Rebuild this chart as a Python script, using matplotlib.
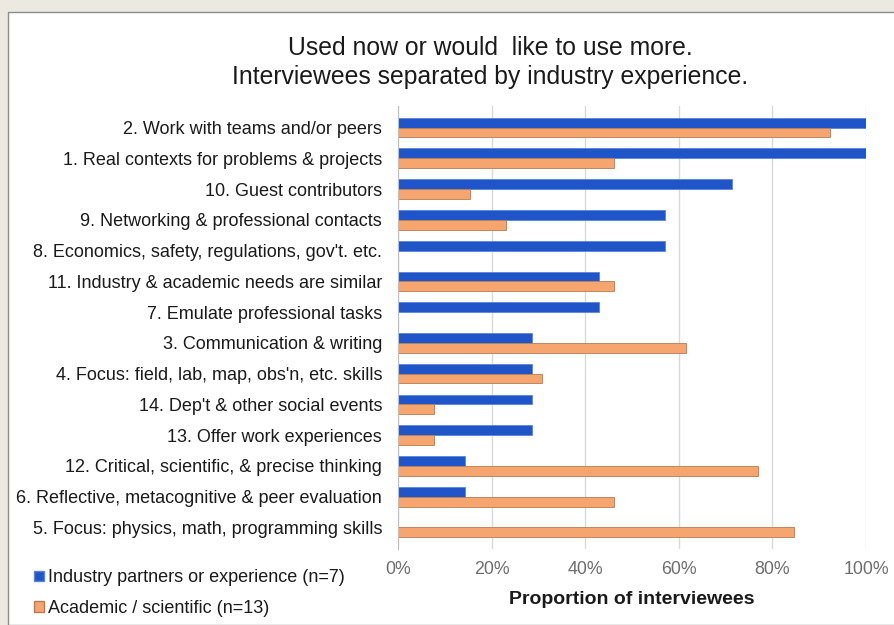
import numpy as np
import matplotlib
matplotlib.use("Agg")
import matplotlib.pyplot as plt
from matplotlib.patches import Rectangle, Patch
from matplotlib.ticker import PercentFormatter

plt.rcParams["font.family"] = ["Liberation Sans", "DejaVu Sans"]

categories = [
    "2. Work with teams and/or peers",
    "1. Real contexts for problems & projects",
    "10. Guest contributors",
    "9. Networking & professional contacts",
    "8. Economics, safety, regulations, gov't. etc.",
    "11. Industry & academic needs are similar",
    "7. Emulate professional tasks",
    "3. Communication & writing",
    "4. Focus: field, lab, map, obs'n, etc. skills",
    "14. Dep't & other social events",
    "13. Offer work experiences",
    "12. Critical, scientific, & precise thinking",
    "6. Reflective, metacognitive & peer evaluation",
    "5. Focus: physics, math, programming skills",
]

# counts of interviewees mentioning each item
industry_counts = [7, 7, 5, 4, 4, 3, 3, 2, 2, 2, 2, 1, 1, 0]
academic_counts = [12, 6, 2, 3, 0, 6, 0, 8, 4, 1, 1, 10, 6, 11]
n_industry = 7
n_academic = 13

industry = np.array(industry_counts) / n_industry
academic = np.array(academic_counts) / n_academic

blue = "#1F55C9"
orange = "#F6A56E"

fig = plt.figure(figsize=(8.94, 6.25), dpi=100)
fig.patch.set_facecolor("#ECE9E0")
fig.patches.append(Rectangle((8 / 894, 0), 1, 1 - 12 / 625, transform=fig.transFigure,
                             facecolor="white", edgecolor="#8C8C8C", linewidth=1.0, zorder=-1))

ax = fig.add_axes([398 / 894, 1 - 549 / 625, (866 - 398) / 894, (549 - 106) / 625])
ax.set_facecolor("none")

y = np.arange(len(categories))
h = 0.32
ax.barh(y - h / 2, industry, height=h, color=blue, edgecolor="#5A85D8", linewidth=0.6, zorder=3)
ax.barh(y + h / 2, academic, height=h, color=orange, edgecolor="#B57C55", linewidth=0.6, zorder=3)

pad = 0.2
ax.set_ylim(len(categories) - 0.5 + pad, -0.5 - pad)
ax.set_xlim(0, 1)
ax.set_yticks(y)
ax.set_yticklabels(categories, fontsize=13, color="#1A1A1A")
ax.set_xticks(np.arange(0, 1.01, 0.2))
ax.xaxis.set_major_formatter(PercentFormatter(1.0, decimals=0))
ax.tick_params(axis="x", labelsize=12.8, labelcolor="#6E6E6E", length=0, pad=9)
ax.tick_params(axis="y", length=0, pad=11.5)
ax.grid(axis="x", color="#D9D9D9", linewidth=1.0, zorder=0)
for s in ["top", "right", "bottom"]:
    ax.spines[s].set_visible(False)
ax.spines["left"].set_color("#BFBFBF")
ax.spines["left"].set_zorder(4)

ax.set_xlabel("Proportion of interviewees", fontsize=14, fontweight="bold", color="#1A1A1A", labelpad=9)

fig.text(0.548, 0.9, "Used now or would  like to use more.\nInterviewees separated by industry experience.",
         ha="center", va="center", fontsize=17.8, color="#1A1A1A", linespacing=1.3)

handles = [Patch(facecolor=blue, edgecolor="#5A85D8"), Patch(facecolor=orange, edgecolor="#B57C55")]
fig.legend(handles, [f"Industry partners or experience (n={n_industry})",
                     f"Academic / scientific (n={n_academic})"],
           loc="lower left", bbox_to_anchor=(0.02, -0.013), frameon=False, fontsize=13,
           handlelength=0.55, handleheight=0.55, handletextpad=0.2, labelspacing=0.75,
           labelcolor="#1A1A1A")

fig.savefig("out.png", dpi=100, facecolor=fig.get_facecolor())
